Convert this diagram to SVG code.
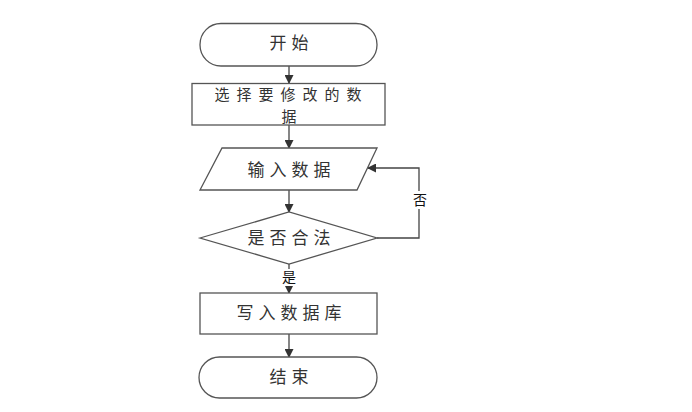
<svg xmlns="http://www.w3.org/2000/svg" width="692" height="412" viewBox="0 0 692 412">
<defs>
<marker id="ah" markerWidth="9" markerHeight="9" refX="8" refY="4.5" orient="auto" markerUnits="userSpaceOnUse">
<path d="M0,0 L9,4.5 L0,9 Z" fill="#333"/>
</marker>
<style>
.s{fill:#fff;stroke:#555;stroke-width:1.3}
.t{font-family:"Noto Sans CJK SC","Noto Sans CJK JP",sans-serif;font-size:17px;fill:#333;text-anchor:middle;letter-spacing:5px}
.t2{font-family:"Noto Sans CJK SC","Noto Sans CJK JP",sans-serif;font-size:15px;fill:#333;text-anchor:middle;letter-spacing:7px}
.l{font-family:"Noto Sans CJK SC","Noto Sans CJK JP",sans-serif;font-size:14px;fill:#111;text-anchor:middle}
.c{fill:none;stroke:#444;stroke-width:1.3}
</style>
</defs>
<rect width="692" height="412" fill="#fff"/>
<g id="connectors">
<line class="c" x1="289" y1="66" x2="289" y2="83" marker-end="url(#ah)"/>
<line class="c" x1="289" y1="125" x2="289" y2="148" marker-end="url(#ah)"/>
<line class="c" x1="289" y1="190" x2="289" y2="212" marker-end="url(#ah)"/>
<line class="c" x1="289" y1="264" x2="289" y2="293" marker-end="url(#ah)"/>
<line class="c" x1="289" y1="334" x2="289" y2="357" marker-end="url(#ah)"/>
<polyline class="c" points="377,238 419,238 419,168 368,168" marker-end="url(#ah)"/>
<rect x="410" y="191" width="18" height="18" fill="#fff"/>
<text class="l" x="420" y="205">否</text>
<rect x="281" y="269" width="16" height="17" fill="#fff"/>
<text class="l" x="289" y="282">是</text>
</g>
<g id="start">
<rect class="s" x="200" y="23.5" width="177" height="42.5" rx="21" ry="21"/>
<text class="t" x="291.5" y="49">开始</text>
</g>
<g id="select">
<rect class="s" x="192" y="83.5" width="193" height="41.5"/>
<text class="t2" x="291.5" y="100">选择要修改的数</text>
<text class="t2" x="292.5" y="122">据</text>
</g>
<g id="input">
<polygon class="s" points="222,148 377,148 357,190 200,190"/>
<text class="t" x="291.5" y="176">输入数据</text>
</g>
<g id="check">
<polygon class="s" points="200,238 289,212 377,238 289,264"/>
<text class="t" x="291.5" y="244">是否合法</text>
</g>
<g id="write">
<rect class="s" x="200" y="293" width="177" height="41"/>
<text class="t" x="291.5" y="319">写入数据库</text>
</g>
<g id="end">
<rect class="s" x="199" y="357" width="178" height="41" rx="20.5" ry="20.5"/>
<text class="t" x="291.5" y="383">结束</text>
</g>
</svg>
